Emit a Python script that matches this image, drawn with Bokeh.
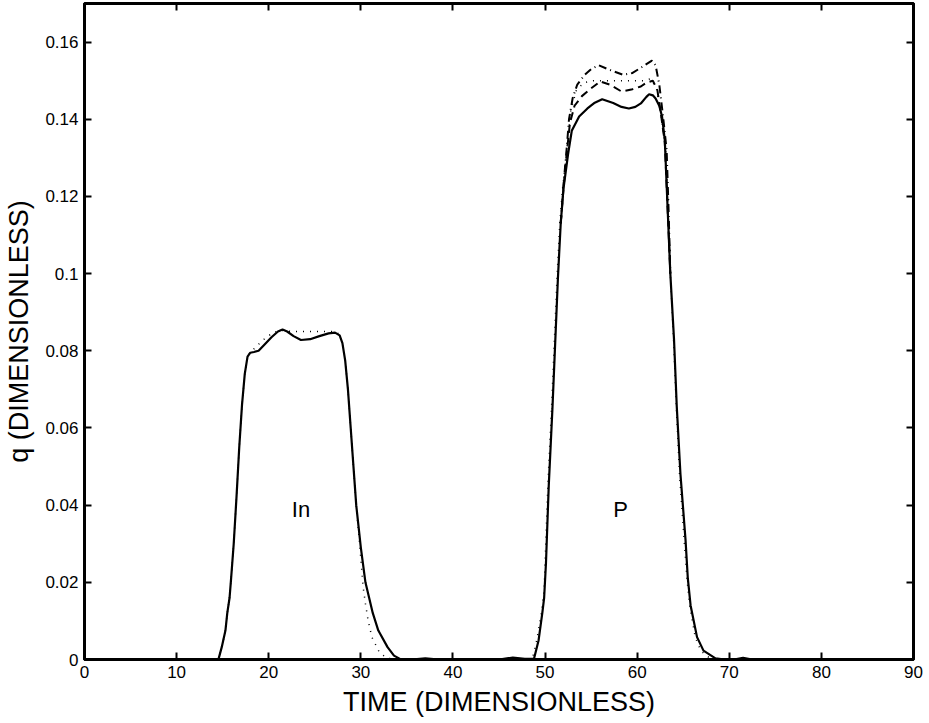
from bokeh.plotting import figure
from bokeh.models import Range1d, FixedTicker, PrintfTickFormatter, LinearAxis, Label
from bokeh.embed import file_html
from bokeh.resources import INLINE

# ---- data ----
x_ticks = [0, 10, 20, 30, 40, 50, 60, 70, 80, 90]
y_ticks = [0, 0.02, 0.04, 0.06, 0.08, 0.1, 0.12, 0.14, 0.16]

solid_x = [0, 14.0, 14.55, 14.9, 15.3, 15.5, 15.75, 15.9, 16.2, 16.5, 16.8, 17.1, 17.4, 17.7, 18.0,
           18.4, 18.9, 19.5, 20.3, 21.0, 21.5, 22.0, 22.7, 23.5, 24.5, 25.5, 26.5, 27.2, 27.7, 28.0,
           28.3, 28.6, 28.9, 29.2, 29.5, 30.0, 30.5, 30.9, 31.3, 31.9, 32.9, 33.6, 34.3, 35.5, 37.0,
           38.5, 45.0, 46.5, 47.8, 48.8, 49.3, 49.7, 49.9, 50.1, 50.4, 50.8, 51.1, 51.4, 51.7, 52.0,
           52.5, 52.9, 53.7, 54.6, 55.4, 56.2, 57.4, 58.3, 59.1, 59.8, 60.4, 61.0, 61.3, 61.7, 62.0,
           62.4, 62.7, 63.0, 63.3, 63.6, 64.0, 64.3, 64.7, 65.25, 65.5, 65.8, 66.5, 67.2, 68.5, 69.5,
           70.5, 71.5, 72.5, 90]
solid_y = [0, 0, 0.0001, 0.0032, 0.0075, 0.012, 0.016, 0.0205, 0.030, 0.042, 0.055, 0.066, 0.074, 0.0785, 0.0795,
           0.0797, 0.0800, 0.0815, 0.0835, 0.0850, 0.0855, 0.0850, 0.0838, 0.0828, 0.0830, 0.0838, 0.0845, 0.0847, 0.0840, 0.0820,
           0.0775, 0.0700, 0.0600, 0.0500, 0.0400, 0.0290, 0.0200, 0.0160, 0.0120, 0.0075, 0.0032, 0.0010, 0.0001, 0, 0.0003,
           0, 0, 0.0005, 0.0002, 0.0002, 0.0050, 0.0120, 0.0160, 0.0250, 0.0450, 0.0650, 0.0820, 0.0990, 0.1130, 0.1220,
           0.1310, 0.1370, 0.1407, 0.1428, 0.1443, 0.1452, 0.1442, 0.1432, 0.1428, 0.1432, 0.1441, 0.1458, 0.1465, 0.1462, 0.1454,
           0.1435, 0.1407, 0.1346, 0.1173, 0.1000, 0.0830, 0.0655, 0.0480, 0.0310, 0.0210, 0.0140, 0.0058, 0.0023, 0.0003, 0,
           0, 0.0004, 0, 0]

dotted_x = [0, 14.0, 14.55, 14.9, 15.3, 15.5, 15.75, 15.9, 16.2, 16.5, 16.8, 17.1, 17.4, 17.7, 18.0,
            18.6, 19.5, 20.5, 21.5, 22.5, 27.2, 27.7, 28.0, 28.3, 28.6, 28.9, 29.2, 29.5, 29.9, 30.25,
            30.5, 30.8, 31.2, 32.0, 32.7, 33.5, 48.6, 49.1, 49.6, 49.9, 50.3, 50.7, 51.0, 51.3, 51.6,
            51.9, 52.3, 52.8, 53.4, 54.2, 55.3, 60.7, 61.5, 62.1, 62.6, 63.1, 63.35, 63.6, 63.95, 64.25,
            64.6, 65.1, 65.4, 65.7, 66.3, 66.9, 67.8, 68.5, 90]
dotted_y = [0, 0, 0.0001, 0.0032, 0.0075, 0.012, 0.016, 0.0205, 0.030, 0.042, 0.055, 0.066, 0.074, 0.0785, 0.0795,
            0.0810, 0.0830, 0.0848, 0.0853, 0.0850, 0.0850, 0.0842, 0.0820, 0.0775, 0.0700, 0.0600, 0.0500, 0.0400, 0.0290, 0.0188,
            0.0145, 0.0100, 0.0058, 0.0019, 0.0006, 0, 0, 0.0050, 0.0120, 0.0180, 0.0450, 0.0650, 0.0820, 0.0990, 0.1130,
            0.1220, 0.1300, 0.1424, 0.1475, 0.1495, 0.1500, 0.1500, 0.1505, 0.1480, 0.1410, 0.1320, 0.1173, 0.1000, 0.0830, 0.0655,
            0.0480, 0.0310, 0.0210, 0.0140, 0.0058, 0.0023, 0.0005, 0, 0]

dashed_x = [51.7, 52.0, 52.3, 52.7, 53.2, 54.0, 55.0, 56.0, 57.0, 58.3, 59.5, 60.4, 61.0, 61.7, 62.2,
            62.6, 63.0, 63.3, 63.6]
dashed_y = [0.1130, 0.1220, 0.1300, 0.1390, 0.1435, 0.1460, 0.1480, 0.1498, 0.1490, 0.1472, 0.1478, 0.1485, 0.1495, 0.1500, 0.1475,
            0.1410, 0.1340, 0.1173, 0.1000]

dashdot_x = [51.7, 52.0, 52.3, 52.6, 53.0, 53.5, 54.3, 55.0, 55.8, 57.0, 58.5, 59.5, 60.5, 61.6, 62.0,
             62.4, 62.8, 63.2, 63.4, 63.6]
dashdot_y = [0.1130, 0.1230, 0.1310, 0.1400, 0.1455, 0.1490, 0.1515, 0.1530, 0.1540, 0.1528, 0.1515, 0.1520, 0.1535, 0.1552, 0.1540,
             0.1490, 0.1410, 0.1320, 0.1173, 0.1000]

labels_text = ["In", "P"]
labels_x = [23.5, 58.2]
labels_y = [0.039, 0.039]

FONT = "Liberation Sans"

p = figure(width=929, height=723, output_backend="svg", toolbar_location=None,
           x_range=Range1d(0, 90), y_range=Range1d(0, 0.17),
           min_border_left=84, min_border_right=16, min_border_top=3, min_border_bottom=64)
p.grid.visible = False
p.background_fill_color = "white"
p.border_fill_color = "white"
p.outline_line_color = "black"
p.outline_line_width = 3

p.line(dotted_x, dotted_y, line_color="black", line_width=1.5, line_dash="1 6")
p.line(dashdot_x, dashdot_y, line_color="black", line_width=2, line_dash="8 4 1 4")
p.line(dashed_x, dashed_y, line_color="black", line_width=2, line_dash="8 5")
p.line(solid_x, solid_y, line_color="black", line_width=2.2)

for t, lx, ly in zip(labels_text, labels_x, labels_y):
    p.add_layout(Label(x=lx, y=ly, text=t, text_font=FONT, text_font_size="22px",
                       text_color="black", text_align="center", text_baseline="middle"))

def style(ax, show_labels):
    ax.axis_line_color = "black"
    ax.axis_line_width = 3
    ax.major_tick_line_color = "black"
    ax.major_tick_line_width = 2
    ax.major_tick_in = 7
    ax.major_tick_out = 0
    ax.minor_tick_line_color = None
    ax.major_label_text_font = FONT
    if show_labels:
        ax.major_label_text_color = "black"
        ax.major_label_text_font_size = "17px"
        ax.major_label_standoff = 6
    else:
        ax.major_label_text_color = None
        ax.major_label_text_font_size = "1px"
        ax.major_label_standoff = 0

xax = p.xaxis[0]
yax = p.yaxis[0]
xax.ticker = FixedTicker(ticks=x_ticks)
yax.ticker = FixedTicker(ticks=y_ticks)
yax.formatter = PrintfTickFormatter(format="%g")
style(xax, True)
style(yax, True)
xax.axis_label = "TIME (DIMENSIONLESS)"
yax.axis_label = "q (DIMENSIONLESS)"
for ax in (xax, yax):
    ax.axis_label_text_font = FONT
    ax.axis_label_text_font_size = "27px"
    ax.axis_label_text_font_style = "normal"
    ax.axis_label_text_color = "black"
xax.axis_label_standoff = 6
yax.axis_label_standoff = 8

top = LinearAxis(ticker=FixedTicker(ticks=x_ticks))
right = LinearAxis(ticker=FixedTicker(ticks=y_ticks))
style(top, False)
style(right, False)
p.add_layout(top, "above")
p.add_layout(right, "right")

open("out.html", "w").write(file_html(p, INLINE))
